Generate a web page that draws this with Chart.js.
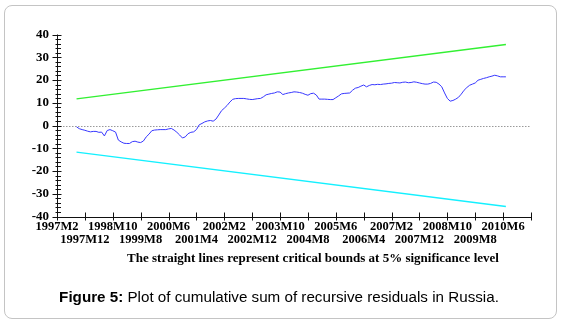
<!DOCTYPE html>
<html>
<head>
<meta charset="utf-8">
<script src="https://cdn.jsdelivr.net/npm/chart.js@4.4.1/dist/chart.umd.min.js"></script>
<style>
  html, body { margin:0; padding:0; background:#fff; }
  #wrap { position:relative; width:564px; height:327px; overflow:hidden; }
  #frame { position:absolute; left:4px; top:5px; width:553px; height:314px; box-sizing:border-box;
           border:1px solid #c4c4c4; border-radius:8px; }
  #cv { position:absolute; left:0; top:0; }
  #sub { position:absolute; left:63px; width:500px; top:250px; text-align:center;
         font-family:"Liberation Serif", serif; font-weight:bold; font-size:13px; color:#000; white-space:nowrap; }
  #cap { position:absolute; left:0; width:558px; top:288px; text-align:center;
         font-family:"Liberation Sans", Arial, sans-serif; font-size:15.2px; color:#000; white-space:nowrap; }
</style>
</head>
<body>
<div id="wrap">
  <div id="frame"></div>
  <canvas id="cv" width="564" height="327"></canvas>
  <div id="sub">The straight lines represent critical bounds at 5% significance level</div>
  <div id="cap"><b>Figure 5:</b> Plot of cumulative sum of recursive residuals in Russia.</div>
</div>
<script>
// ---- categories: monthly periods 1997M2 .. 2011M4 ----
const firstYear = 1997, firstMonth = 2, monthCount = 171;
const months = [];
for (let i = 0; i < monthCount; i++) {
  const t = (firstMonth - 1) + i;
  months.push((firstYear + Math.floor(t / 12)) + 'M' + (t % 12 + 1));
}
// labelled ticks (every 10 months), alternating two rows
const tickLabels = ['1997M2','1997M12','1998M10','1999M8','2000M6','2001M4','2002M2','2002M12',
  '2003M10','2004M8','2005M6','2006M4','2007M2','2007M12','2008M10','2009M8','2010M6','2011M4'];
const unlabelledTicks = ['2011M4'];

// ---- CUSUM series (starts at 1997M9) ----
const cusumStart = '1997M9';
const cusum = [
  -0.6,-1.4,-1.8,-2.1,-2.5,-2.8,-2.6,-2.6,-3.0,-2.9,-4.6,-2.2,-1.8,-2.3,-2.9,-6.4,-7.2,-7.8,-7.9,-7.9,
  -7.1,-6.9,-7.3,-7.5,-6.8,-5.0,-3.8,-2.3,-2.0,-1.9,-1.8,-1.8,-1.8,-1.5,-1.3,-2.0,-3.0,-4.2,-5.5,-5.0,
  -3.6,-3.0,-2.8,-1.8,0.3,0.9,1.6,2.0,2.2,1.9,2.8,4.6,6.5,7.6,8.8,10.3,11.5,11.8,11.9,11.9,
  11.9,11.7,11.5,11.4,11.6,11.8,11.9,12.6,13.5,13.8,14.1,14.3,14.8,14.7,13.6,14.0,14.3,14.5,14.8,14.7,
  14.5,14.2,13.7,13.3,14.0,14.2,13.4,11.6,11.6,11.6,11.5,11.4,11.4,12.2,13.0,13.9,14.1,14.2,14.3,15.5,
  16.4,16.7,17.3,17.8,17.0,17.6,18.0,17.9,18.1,18.0,18.2,18.3,18.5,18.6,18.9,18.8,18.7,19.0,19.1,18.8,
  18.9,19.2,19.0,18.7,18.4,18.2,18.2,18.5,19.1,19.0,18.2,17.0,14.3,11.9,10.7,11.0,11.6,12.4,13.8,15.5,
  16.7,17.7,18.2,18.7,19.9,20.3,20.7,21.0,21.4,21.7,22.1,21.8,21.4,21.4,21.4
];
// ---- 5% critical bounds (straight lines between end points) ----
const boundPeriods = ['1997M9', '2010M7'];
const upperBound = [11.7, 35.6];
const lowerBound = [-11.7, -35.6];
// ---- y ticks ----
const yMin = -40, yMax = 40, yMinorStep = 2, yMajorStep = 10;

const startIdx = months.indexOf(cusumStart);
const cusumData = cusum.map((v, i) => ({ x: months[startIdx + i], y: v }));
const upperData = boundPeriods.map((p, i) => ({ x: p, y: upperBound[i] }));
const lowerData = boundPeriods.map((p, i) => ({ x: p, y: lowerBound[i] }));

const axesPlugin = {
  id: 'axesPlugin',
  beforeDatasetsDraw(chart) {
    const { ctx, scales: { x, y } } = chart;
    const y0 = Math.round(y.getPixelForValue(0)) + 0.5;
    ctx.save();
    ctx.strokeStyle = '#9a9a9a';
    ctx.lineWidth = 1;
    ctx.setLineDash([1.5, 1.5]);
    ctx.beginPath();
    ctx.moveTo(x.left, y0);
    ctx.lineTo(x.right, y0);
    ctx.stroke();
    ctx.restore();
  },
  afterDatasetsDraw(chart) {
    const { ctx, scales: { x, y } } = chart;
    ctx.save();
    ctx.strokeStyle = '#111';
    ctx.lineWidth = 1;
    const ax = Math.round(x.left) + 0.5;
    const ay = Math.round(y.bottom) + 0.5;
    ctx.beginPath();
    ctx.moveTo(ax, y.top); ctx.lineTo(ax, ay);
    ctx.moveTo(x.left, ay); ctx.lineTo(x.right + 0.5, ay);
    for (let v = yMin; v <= yMax; v += yMinorStep) {
      const py = Math.round(y.getPixelForValue(v)) + 0.5;
      const major = v % yMajorStep === 0;
      ctx.moveTo(ax - (major ? 5 : 2), py);
      ctx.lineTo(ax + (major ? 4 : 3.5), py);
    }
    tickLabels.forEach(lbl => {
      const px = Math.round(x.getPixelForValue(months.indexOf(lbl))) + 0.5;
      ctx.moveTo(px, ay - 5);
      ctx.lineTo(px, ay + 3);
    });
    ctx.stroke();
    ctx.restore();
  }
};

new Chart(document.getElementById('cv'), {
  type: 'line',
  data: {
    labels: months,
    datasets: [
      { data: upperData, borderColor: 'rgb(50,240,50)', borderWidth: 1.4, pointRadius: 0, tension: 0 },
      { data: lowerData, borderColor: 'rgb(20,240,255)', borderWidth: 1.4, pointRadius: 0, tension: 0 },
      { data: cusumData, borderColor: 'rgb(55,55,255)', borderWidth: 1, pointRadius: 0, tension: 0 }
    ]
  },
  plugins: [axesPlugin],
  options: {
    responsive: false,
    animation: false,
    devicePixelRatio: 1,
    layout: { padding: { left: 0, right: 33, top: 34.5, bottom: 60 } },
    plugins: { legend: { display: false }, tooltip: { enabled: false }, title: { display: false } },
    scales: {
      x: {
        type: 'category',
        offset: false,
        grid: { display: false, drawTicks: false },
        border: { display: false },
        afterFit(s) { s.height = 50.5; },
        ticks: {
          autoSkip: false, maxRotation: 0, minRotation: 0, padding: 4,
          color: '#000',
          font: { family: 'Liberation Serif', size: 12.5, weight: 'bold', lineHeight: 1.05 },
          callback(value, index) {
            const lbl = months[index];
            const k = tickLabels.indexOf(lbl);
            if (k < 0) return null;
            if (unlabelledTicks.includes(lbl)) return null;
            return k % 2 === 0 ? [lbl, ''] : ['', lbl];
          }
        }
      },
      y: {
        min: yMin, max: yMax,
        grid: { display: false, drawTicks: false },
        border: { display: false },
        afterFit(s) { s.width = 57; },
        ticks: {
          stepSize: yMinorStep, padding: 8, color: '#000',
          font: { family: 'Liberation Serif', size: 13, weight: 'bold' },
          callback(v) { return v % yMajorStep === 0 ? String(v) : ''; }
        }
      }
    }
  }
});
</script>
</body>
</html>
